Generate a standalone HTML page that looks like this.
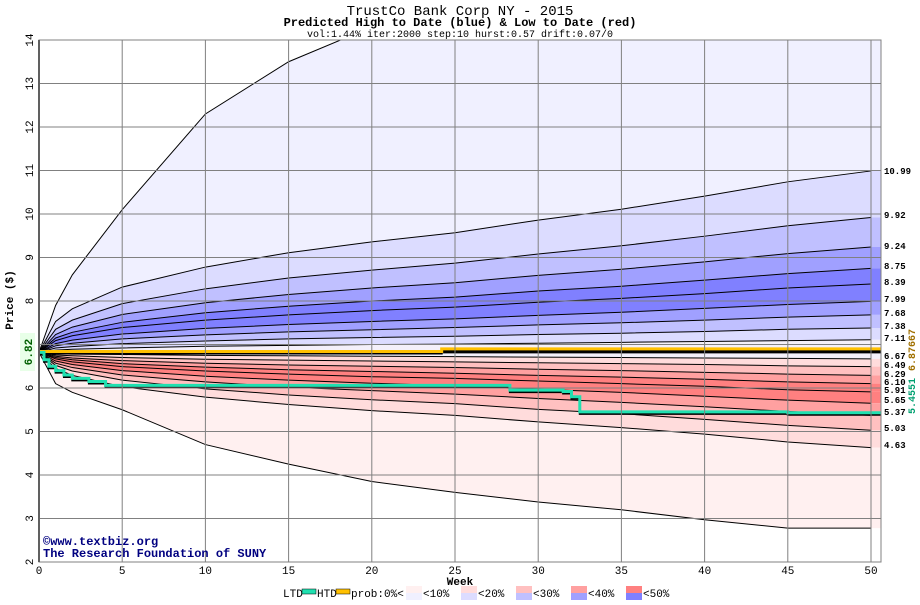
<!DOCTYPE html>
<html><head><meta charset="utf-8"><style>
body{margin:0;background:#fff;}
svg text{font-family:"Liberation Mono","DejaVu Sans Mono",monospace;}
</style></head><body>
<svg id="c" width="920" height="600" xmlns="http://www.w3.org/2000/svg">
<rect width="920" height="600" fill="#fff"/>
<text x="460" y="15" text-anchor="middle" font-size="14">TrustCo Bank Corp NY - 2015</text>
<text x="460" y="26" text-anchor="middle" font-size="12" font-weight="bold">Predicted High to Date (blue) &amp;  Low to Date (red)</text>
<text x="460" y="37" text-anchor="middle" font-size="10">vol:1.44% iter:2000 step:10 hurst:0.57 drift:0.07/0</text>
<g id="plot"></g>
</svg>
<script>
const weeks=[0,1,2,5,10,15,20,25,30,35,40,45,50];
const maxCurve=[6.82,7.9,8.6,10.1,12.3,13.5,14.3,15,15.5,16,16.4,16.8,17.2];
const minCurve=[6.82,6.1,5.9,5.5,4.7,4.25,3.85,3.6,3.38,3.2,2.97,2.78,2.78];
const upper=[
[6.82,7.53,7.82,8.32,8.78,9.11,9.36,9.57,9.86,10.11,10.41,10.74,10.99],
[6.82,7.35,7.56,7.94,8.28,8.53,8.71,8.87,9.08,9.27,9.49,9.73,9.92],
[6.82,7.23,7.40,7.69,7.96,8.15,8.30,8.42,8.59,8.73,8.90,9.09,9.24],
[6.82,7.15,7.28,7.51,7.73,7.88,8.00,8.09,8.23,8.34,8.48,8.63,8.75],
[6.82,7.09,7.20,7.39,7.56,7.68,7.78,7.86,7.97,8.06,8.17,8.30,8.39],
[6.82,7.02,7.10,7.24,7.37,7.46,7.53,7.59,7.67,7.74,7.83,7.92,7.99],
[6.82,6.97,7.03,7.13,7.22,7.29,7.34,7.39,7.45,7.50,7.56,7.63,7.68],
[6.82,6.92,6.95,7.02,7.08,7.13,7.16,7.19,7.23,7.26,7.30,7.35,7.38],
[6.82,6.87,6.89,6.92,6.96,6.98,7.00,7.01,7.03,7.05,7.07,7.09,7.11]];
const lower=[
[6.82,6.79,6.78,6.77,6.75,6.74,6.73,6.72,6.71,6.70,6.69,6.68,6.67],
[6.82,6.76,6.74,6.70,6.66,6.64,6.62,6.60,6.58,6.56,6.54,6.51,6.49],
[6.82,6.73,6.69,6.63,6.57,6.53,6.50,6.47,6.43,6.40,6.36,6.32,6.29],
[6.82,6.70,6.65,6.56,6.48,6.42,6.38,6.34,6.29,6.25,6.20,6.14,6.10],
[6.82,6.67,6.60,6.49,6.39,6.32,6.26,6.22,6.16,6.10,6.04,5.96,5.91],
[6.82,6.62,6.54,6.40,6.27,6.18,6.11,6.05,5.97,5.90,5.81,5.72,5.65],
[6.82,6.57,6.47,6.30,6.14,6.02,5.94,5.86,5.76,5.67,5.57,5.46,5.37],
[6.82,6.52,6.39,6.18,5.98,5.84,5.73,5.64,5.51,5.41,5.28,5.14,5.03],
[6.82,6.45,6.29,6.03,5.79,5.62,5.48,5.37,5.22,5.09,4.94,4.76,4.63]];
const endLabels=["10.99","9.92","9.24","8.75","8.39","7.99","7.68","7.38","7.11","6.67","6.49","6.29","6.10","5.91","5.65","5.37","5.03","4.63"];
const upperColors=["#f0f0ff","#dcdcff","#c0c0ff","#a0a0ff","#8080ff","#8080ff","#a0a0ff","#c0c0ff","#dcdcff"];
const lowerColors=["#fff0f0","#ffdcdc","#ffc0c0","#ffa0a0","#ff8080","#ff8080","#ffa0a0","#ffc0c0","#ffdcdc"];
const ltdWeeks=[0,0.3,0.6,1,1.5,2,3,4,28,28.3,31.5,32,32.5,45,50.6];
const ltdVals=[6.82,6.65,6.5,6.4,6.3,6.22,6.15,6.06,6.06,5.95,5.92,5.8,5.45,5.43,5.43];
const htdWeeks=[0,24,24.2,50.6];
const htdVals=[6.84,6.84,6.9,6.9];
const yTicks=[2,3,4,5,6,7,8,9,10,11,12,13,14];
const xTicks=[0,5,10,15,20,25,30,35,40,45,50];

const X0=39,X1=881,Y0=40,Y1=562;
const xs=w=>X0+w*(871-39)/50;
const ys=v=>Y1-(v-2)*(Y1-Y0)/12;
const NS="http://www.w3.org/2000/svg";
const g=document.getElementById('plot');
function el(t,a,p){const e=document.createElementNS(NS,t);for(const k in a)e.setAttribute(k,a[k]);(p||g).appendChild(e);return e;}
const defs=el('defs',{});const cp=el('clipPath',{id:'cl'},defs);el('rect',{x:X0,y:Y0,width:X1-X0,height:Y1-Y0},cp);
const pg=el('g',{'clip-path':'url(#cl)'});
function pts(arr){const p=arr.map((v,i)=>xs(weeks[i])+','+ys(v));p.push(X1+2+','+ys(arr[arr.length-1]));return p;}
function band(a,b,col,name){const p=el('polygon',{points:pts(a).concat(pts(b).reverse()).join(' '),fill:col},pg);

}
const ups=[maxCurve].concat(upper), lows=lower.concat([minCurve]);
for(let i=0;i<upper.length;i++)band(ups[i],ups[i+1],upperColors[i],'upper-band-'+i);
band(upper[8],lower[0],"#f4f0fa",'center-band');
for(let i=0;i<lower.length;i++)band(lows[i],lows[i+1],lowerColors[8-i],'lower-band-'+i);
// grid
yTicks.forEach(v=>{const l=el('line',{x1:X0,x2:X1,y1:ys(v),y2:ys(v),stroke:'#808080'});


const t=el('text',{x:0,y:0,'font-size':11,'text-anchor':'middle',transform:`translate(${X0-6},${ys(v)}) rotate(-90)`});t.textContent=v;

});
xTicks.forEach(w=>{const l=el('line',{x1:xs(w),x2:xs(w),y1:Y0,y2:Y1,stroke:'#808080'});


const t=el('text',{x:xs(w),y:Y1+12,'font-size':11,'text-anchor':'middle'});t.textContent=w;

});
// curves
[maxCurve].concat(upper,lower,[minCurve]).forEach((c,i)=>{const p=el('polyline',{points:pts(c).slice(0,-1).join(' '),fill:'none',stroke:'#000','stroke-width':1},pg);

});
el('line',{x1:X0,x2:X1,y1:ys(6.82),y2:ys(6.82),stroke:'#000','stroke-width':2},pg);
function step(wk,vals,col,name){const p=[],q=[];wk.forEach((w,i)=>{if(i>0){p.push(xs(w)+','+ys(vals[i-1]));q.push(xs(w)+','+(ys(vals[i-1])+2));}p.push(xs(w)+','+ys(vals[i]));q.push(xs(w)+','+(ys(vals[i])+2));});
el('polyline',{points:q.join(' '),fill:'none',stroke:'#000','stroke-width':2},pg);
const l=el('polyline',{points:p.join(' '),fill:'none',stroke:col,'stroke-width':3},pg);

}
step(htdWeeks,htdVals,'#ffc000','htd-line');
step(ltdWeeks,ltdVals,'#20e0b0','ltd-line');
el('rect',{x:X0,y:Y0,width:X1-X0,height:Y1-Y0,fill:'none',stroke:'#808080'});
el('line',{x1:X0,x2:X0,y1:Y0,y2:Y1,stroke:'#606060','stroke-width':2});
// end labels
const lblY=[170,214,245,265,281,298,312,325,337,355,364,373,381,389,399,411,427,444];
endLabels.forEach((s,i)=>{const t=el('text',{x:884,y:lblY[i]+4,'font-size':9,'font-weight':'bold'});t.textContent=s;

});
el('rect',{x:20,y:333,width:15,height:38,fill:'#e8ffe8'});
function rot(x,y,txt,col,name,size){const t=el('text',{x:0,y:0,'font-size':size||11,'font-weight':'bold',fill:col,'text-anchor':'middle',transform:`translate(${x},${y}) rotate(-90)`});t.textContent=txt;

}
rot(32,352,'6.82','#006000','start-price-label');
rot(915,350,'6.87667','#a07000','htd-final-label',10);
rot(915,396,'5.4551','#00a070','ltd-final-label',10);
rot(13,300,'Price ($)','#000','y-axis-title');
let t=el('text',{x:460,y:585,'font-size':11,'font-weight':'bold','text-anchor':'middle'});t.textContent='Week';

t=el('text',{x:43,y:545,'font-size':12,'font-weight':'bold',fill:'#000080'});t.textContent='©www.textbiz.org';

t=el('text',{x:43,y:557,'font-size':12,'font-weight':'bold',fill:'#000080'});t.textContent='The Research Foundation of SUNY';

// legend
const lg=el('g',{});
function lt(x,s){const e=el('text',{x:x,y:597,'font-size':11},lg);e.textContent=s;}
lt(283,'LTD');el('rect',{x:302,y:589,width:14,height:5,fill:'#20e0b0',stroke:'#000','stroke-width':0.5},lg);
lt(317,'HTD');el('rect',{x:336,y:589,width:14,height:5,fill:'#ffc000',stroke:'#000','stroke-width':0.5},lg);
lt(351,'prob:0%<');
const lr=["#fff0f0","#ffdcdc","#ffc0c0","#ffa0a0","#ff8080"],lb=["#f0f0ff","#dcdcff","#c0c0ff","#a0a0ff","#8080ff"],ll=["<10%","<20%","<30%","<40%","<50%"];
for(let i=0;i<5;i++){const x=406+i*55;el('rect',{x:x,y:586,width:16,height:7,fill:lr[i]},lg);el('rect',{x:x,y:593,width:16,height:7,fill:lb[i]},lg);lt(x+17,ll[i]);}
</script>
</body></html>
